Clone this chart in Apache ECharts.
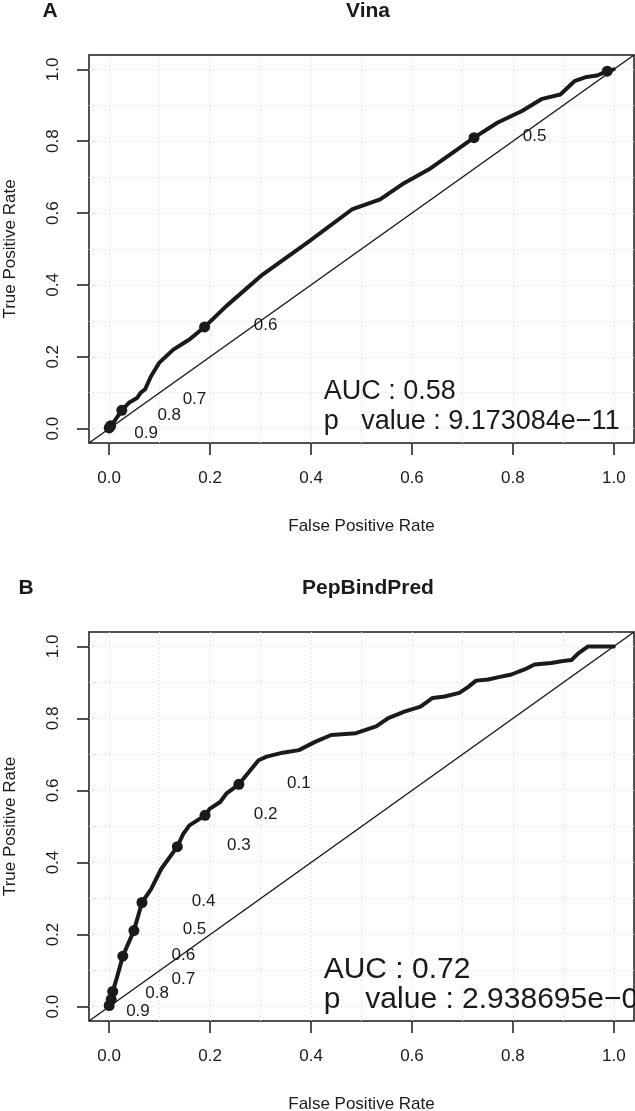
<!DOCTYPE html>
<html>
<head>
<meta charset="utf-8">
<script src="https://cdn.jsdelivr.net/npm/echarts@6/dist/echarts.min.js"></script>
<style>
html,body{margin:0;padding:0;background:#fff;}
#c{width:635px;height:1111px;}
</style>
</head>
<body>
<div id="c"></div>
<script>
// ---------- data ----------
const axisTicks = [0, 0.2, 0.4, 0.6, 0.8, 1.0];
const gridValues = [0, 0.1, 0.2, 0.3, 0.4, 0.5, 0.6, 0.7, 0.8, 0.9, 1.0];
const diagX = [-0.04, 1.04];
const diagY = [-0.04, 1.04];

// Panel A: Vina
const vinaTitle = 'Vina';
const vinaFPR = [0, 0.0, 0.025, 0.039, 0.055, 0.063, 0.071, 0.083, 0.099, 0.127, 0.159, 0.189, 0.232, 0.304, 0.392, 0.481, 0.537, 0.585, 0.633, 0.681, 0.723, 0.770, 0.818, 0.858, 0.894, 0.922, 0.946, 0.967, 0.987, 1.0];
const vinaTPR = [0, 0.002, 0.051, 0.072, 0.085, 0.101, 0.109, 0.146, 0.183, 0.220, 0.248, 0.283, 0.341, 0.429, 0.517, 0.610, 0.638, 0.684, 0.721, 0.768, 0.810, 0.852, 0.884, 0.918, 0.930, 0.967, 0.979, 0.983, 0.995, 1.0];
const vinaCutFPR = [0.723, 0.189, 0.025, 0.003, 0.0, 0.987];
const vinaCutTPR = [0.810, 0.283, 0.051, 0.008, 0.002, 0.995];
const vinaLabels = ['0.5', '0.6', '0.7', '0.8', '0.9'];
const vinaLabelFPR = [0.843, 0.310, 0.169, 0.119, 0.073];
const vinaLabelTPR = [0.814, 0.287, 0.081, 0.036, -0.012];
const vinaAUC = 'AUC : 0.58';
const vinaP = 'p   value : 9.173084e\u221211';

// Panel B: PepBindPred
const pepTitle = 'PepBindPred';
const pepFPR = [0, 0.0, 0.004, 0.007, 0.015, 0.027, 0.049, 0.065, 0.083, 0.103, 0.135, 0.147, 0.159, 0.190, 0.199, 0.220, 0.232, 0.257, 0.296, 0.312, 0.344, 0.376, 0.408, 0.440, 0.489, 0.529, 0.553, 0.585, 0.617, 0.641, 0.665, 0.694, 0.711, 0.727, 0.751, 0.770, 0.797, 0.823, 0.843, 0.876, 0.896, 0.916, 0.929, 0.949, 0.995, 1.0];
const pepTPR = [0, 0.003, 0.020, 0.042, 0.079, 0.140, 0.211, 0.289, 0.326, 0.382, 0.444, 0.480, 0.503, 0.531, 0.549, 0.568, 0.591, 0.617, 0.684, 0.694, 0.705, 0.712, 0.735, 0.754, 0.759, 0.778, 0.801, 0.819, 0.833, 0.857, 0.861, 0.871, 0.887, 0.905, 0.908, 0.914, 0.922, 0.936, 0.950, 0.954, 0.959, 0.962, 0.980, 1.0, 1.0, 1.0];
const pepCutFPR = [0.257, 0.190, 0.135, 0.065, 0.049, 0.027, 0.007, 0.004, 0.0];
const pepCutTPR = [0.617, 0.531, 0.444, 0.289, 0.211, 0.140, 0.042, 0.020, 0.003];
const pepLabels = ['0.1', '0.2', '0.3', '0.4', '0.5', '0.6', '0.7', '0.8', '0.9'];
const pepLabelFPR = [0.376, 0.310, 0.257, 0.187, 0.169, 0.147, 0.147, 0.095, 0.057];
const pepLabelTPR = [0.619, 0.535, 0.449, 0.293, 0.214, 0.142, 0.076, 0.037, -0.014];
const pepAUC = 'AUC : 0.72';
const pepP = 'p   value : 2.938695e\u221206';

const aucPosFPR = 0.425;
const vinaAucTPR = [0.103, 0.020];
const pepAucTPR = [0.103, 0.018];

// ---------- chart ----------
const FONT = '"Liberation Sans", Arial, Helvetica, sans-serif';
const INK = '#1a1a1a';
const zip = (a, b) => a.map((v, i) => [v, b[i]]);

function xAxisFor(gi) {
  return {
    type: 'value', gridIndex: gi, min: -0.04, max: 1.04,
    axisLine: { show: false, onZero: false },
    axisTick: { show: true, length: 12, customValues: axisTicks, lineStyle: { color: INK, width: 1.5 } },
    axisLabel: { customValues: axisTicks, formatter: v => v.toFixed(1), fontSize: 17, color: INK, fontFamily: FONT, margin: 27 },
    splitLine: { show: false },
    name: 'False Positive Rate', nameLocation: 'middle', nameGap: 75,
    nameTextStyle: { fontSize: 17, color: INK, fontFamily: FONT }
  };
}
function yAxisFor(gi) {
  return {
    type: 'value', gridIndex: gi, min: -0.04, max: 1.04,
    axisLine: { show: false, onZero: false },
    axisTick: { show: true, length: 12, customValues: axisTicks, lineStyle: { color: INK, width: 1.5 } },
    axisLabel: { customValues: axisTicks, formatter: v => v.toFixed(1), fontSize: 17, color: INK, fontFamily: FONT, margin: 27, rotate: 90 },
    splitLine: { show: false },
    name: 'True Positive Rate', nameLocation: 'middle', nameGap: 70,
    nameTextStyle: { fontSize: 17, color: INK, fontFamily: FONT }
  };
}

function panelSeries(gi, fpr, tpr, cutF, cutT, labs, labF, labT, auc, pv, aucT, aucSize) {
  const gridLines = [];
  gridValues.forEach(v => { gridLines.push({ xAxis: v }); gridLines.push({ yAxis: v }); });
  return [
    {
      type: 'line', xAxisIndex: gi, yAxisIndex: gi, data: zip(diagX, diagY),
      symbol: 'none', lineStyle: { color: INK, width: 1.5 }, silent: true, z: 2,
      markLine: {
        silent: true, symbol: 'none', label: { show: false },
        lineStyle: { color: '#d6d6d6', width: 1, type: [1, 3] },
        data: gridLines, z: 1
      }
    },
    {
      type: 'line', xAxisIndex: gi, yAxisIndex: gi, data: zip(fpr, tpr),
      symbol: 'none', lineStyle: { color: INK, width: 4, join: 'round', cap: 'round' }, z: 3
    },
    {
      type: 'scatter', xAxisIndex: gi, yAxisIndex: gi, data: zip(cutF, cutT),
      symbol: 'circle', symbolSize: 11, itemStyle: { color: INK, opacity: 1 }, z: 4
    },
    {
      type: 'scatter', xAxisIndex: gi, yAxisIndex: gi,
      data: labs.map((l, i) => ({ value: [labF[i], labT[i]], name: l })),
      symbolSize: 0, itemStyle: { color: 'transparent', opacity: 1 }, clip: false, z: 5,
      label: { show: true, position: 'inside', formatter: p => p.name, fontSize: 17, color: INK, fontFamily: FONT }
    },
    {
      type: 'scatter', xAxisIndex: gi, yAxisIndex: gi,
      data: [{ value: [aucPosFPR, aucT[0]], name: auc }, { value: [aucPosFPR, aucT[1]], name: pv }],
      symbolSize: 0, itemStyle: { color: 'transparent', opacity: 1 }, clip: false, z: 5,
      label: { show: true, position: 'right', distance: 0, formatter: p => p.name, fontSize: aucSize, color: INK, fontFamily: FONT }
    }
  ];
}

const chart = echarts.init(document.getElementById('c'), null, { renderer: 'canvas' });
chart.setOption({
  animation: false,
  backgroundColor: '#fff',
  title: [
    { text: vinaTitle, left: 363, top: -4, textAlign: 'center', textStyle: { fontSize: 21, fontWeight: 'bold', color: INK, fontFamily: FONT } },
    { text: 'A', left: 45, top: -4, textAlign: 'center', textStyle: { fontSize: 21, fontWeight: 'bold', color: INK, fontFamily: FONT } },
    { text: pepTitle, left: 363, top: 573, textAlign: 'center', textStyle: { fontSize: 21, fontWeight: 'bold', color: INK, fontFamily: FONT } },
    { text: 'B', left: 21, top: 573, textAlign: 'center', textStyle: { fontSize: 21, fontWeight: 'bold', color: INK, fontFamily: FONT } }
  ],
  grid: [
    { left: 89, top: 55, width: 545, height: 388, show: true, borderColor: INK, borderWidth: 1.5, backgroundColor: 'transparent', containLabel: false, outerBoundsMode: 'none' },
    { left: 89, top: 632, width: 545, height: 389, show: true, borderColor: INK, borderWidth: 1.5, backgroundColor: 'transparent', containLabel: false, outerBoundsMode: 'none' }
  ],
  xAxis: [xAxisFor(0), xAxisFor(1)],
  yAxis: [yAxisFor(0), yAxisFor(1)],
  series: [
    ...panelSeries(0, vinaFPR, vinaTPR, vinaCutFPR, vinaCutTPR, vinaLabels, vinaLabelFPR, vinaLabelTPR, vinaAUC, vinaP, vinaAucTPR, 27),
    ...panelSeries(1, pepFPR, pepTPR, pepCutFPR, pepCutTPR, pepLabels, pepLabelFPR, pepLabelTPR, pepAUC, pepP, pepAucTPR, 30)
  ]
});
</script>
</body>
</html>
